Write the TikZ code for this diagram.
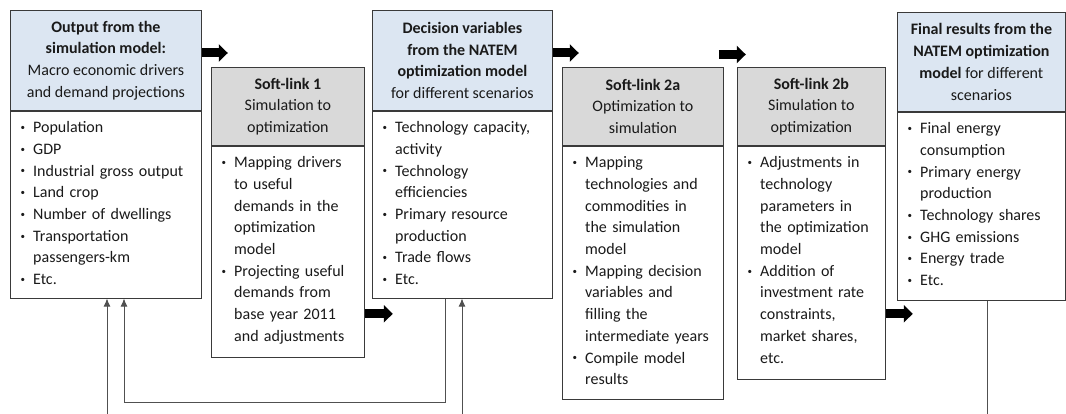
\documentclass[tikz,border=0pt]{standalone}
\usepackage{fontspec}
\setmainfont{Carlito}
\usetikzlibrary{arrows.meta,calc}
\definecolor{bluec}{HTML}{DCE6F2}
\definecolor{greyc}{HTML}{D9D9D9}
\definecolor{boxc}{HTML}{3A3A3A}
\definecolor{linec}{HTML}{505050}
\definecolor{txtc}{HTML}{1A1A1A}
\newcommand\mainsize{\fontsize{16}{21.7}\selectfont}
\newcommand\bul{\llap{\raisebox{2.2pt}{\fontsize{9}{9}\selectfont•}\hspace{8pt}}}
\newcommand\fitm{\noindent\bul}
\newcommand\itm{\par\noindent\bul}
\tikzset{
  frame/.style={draw=boxc, line width=0.8pt, inner sep=0pt, anchor=north west},
  bluehead/.style={frame, fill=bluec},
  greyhead/.style={frame, fill=greyc},
  htext/.style={align=center, font=\mainsize, inner sep=0pt, text=txtc},
  btext/.style={text width=170pt, align=left, font=\mainsize, inner sep=0pt, anchor=base west, text=txtc},
  blk/.style={-{Triangle[length=9pt,width=17pt]}, line width=9pt, draw=black},
  thin/.style={draw=linec, line width=0.8pt},
  thinarr/.style={thin, -{Latex[length=8pt,width=7pt]}}
}
\begin{document}
\begin{tikzpicture}[x=1pt,y=-1pt]
\useasboundingbox[fill=white] (0,0) rectangle (1066,414);
% Box 1
\node[bluehead, minimum width=191pt, minimum height=100pt] (h1) at (10,10) {};
\node[frame, minimum width=191pt, minimum height=187pt] (b1) at (h1.south west) {};
\node[htext] (t1) at (h1.center) {\textbf{Output from the}\\\textbf{simulation model:}\\Macro economic drivers\\and demand projections};
\node[btext] (l1) at ([xshift=23pt,yshift=-22pt]b1.north west) {\fitm Population\itm GDP\itm Industrial gross output\itm Land crop\itm Number of dwellings\itm Transportation\\passengers-km\itm Etc.};
% Soft-link 1
\node[greyhead, minimum width=153pt, minimum height=78pt] (h2) at (211,67) {};
\node[frame, minimum width=153pt, minimum height=211pt] (b2) at (h2.south west) {};
\node[htext] (t2) at (h2.center) {\textbf{Soft-link 1}\\Simulation to\\optimization};
\node[btext] (l2) at ([xshift=23pt,yshift=-22pt]b2.north west) {\fitm Mapping drivers\\to useful\\demands in the\\optimization\\model\itm Projecting useful\\demands from\\base year 2011\\and adjustments};
% Box 3
\node[bluehead, minimum width=180pt, minimum height=100pt] (h3) at (372,10) {};
\node[frame, minimum width=180pt, minimum height=187pt] (b3) at (h3.south west) {};
\node[htext] (t3) at (h3.center) {\textbf{Decision variables}\\\textbf{from the NATEM}\\\textbf{optimization model}\\for different scenarios};
\node[btext] (l3) at ([xshift=23pt,yshift=-22pt]b3.north west) {\fitm Technology capacity,\\activity\itm Technology\\efficiencies\itm Primary resource\\production\itm Trade flows\itm Etc.};
% Soft-link 2a
\node[greyhead, minimum width=161pt, minimum height=78pt] (h4) at (562,67) {};
\node[frame, minimum width=161pt, minimum height=253pt] (b4) at (h4.south west) {};
\node[htext] (t4) at (h4.center) {\textbf{Soft-link 2a}\\Optimization to\\simulation};
\node[btext] (l4) at ([xshift=23pt,yshift=-22pt]b4.north west) {\fitm Mapping\\technologies and\\commodities in\\the simulation\\model\itm Mapping decision\\variables and\\filling the\\intermediate years\itm Compile model\\results};
% Soft-link 2b
\node[greyhead, minimum width=148pt, minimum height=78pt] (h5) at (737,67) {};
\node[frame, minimum width=148pt, minimum height=233pt] (b5) at (h5.south west) {};
\node[htext] (t5) at (h5.center) {\textbf{Soft-link 2b}\\Simulation to\\optimization};
\node[btext] (l5) at ([xshift=23pt,yshift=-22pt]b5.north west) {\fitm Adjustments in\\technology\\parameters in\\the optimization\\model\itm Addition of\\investment rate\\constraints,\\market shares,\\etc.};
% Final results
\node[bluehead, minimum width=168pt, minimum height=99pt] (h6) at (897,12) {};
\node[frame, minimum width=168pt, minimum height=188pt] (b6) at (h6.south west) {};
\node[htext] (t6) at (h6.center) {\textbf{Final results from the}\\\textbf{NATEM optimization}\\\textbf{model} for different\\scenarios};
\node[btext] (l6) at ([xshift=23pt,yshift=-22pt]b6.north west) {\fitm Final energy\\consumption\itm Primary energy\\production\itm Technology shares\itm GHG emissions\itm Energy trade\itm Etc.};
% block arrows
\draw[blk] ([yshift=-43pt]h1.north east) -- ++(26,0);
\draw[blk] ([yshift=-43pt]h3.north east) -- ++(26,0);
\draw[blk] ([xshift=-5pt,yshift=12.5pt]h4.north east) -- ++(27,0);
\draw[blk] ([yshift=-168pt]b2.north east) -- ++(28,0);
\draw[blk] ([yshift=-168pt]b5.north east) -- ++(27,0);
% thin connectors
\coordinate (c1) at (107,414);
\coordinate (c2) at (462,414);
\coordinate (c3) at (987,414);
\coordinate (d1) at (445,402);
\coordinate (d2) at (124,402);
\draw[thinarr] (c1) -- (c1 |- b1.south);
\draw[thinarr] (b3.south -| d1) -- (d1) -- (d2) -- (d2 |- b1.south);
\draw[thinarr] (c2) -- (c2 |- b3.south);
\draw[thin] (b6.south -| c3) -- (c3);
\end{tikzpicture}
\end{document}
